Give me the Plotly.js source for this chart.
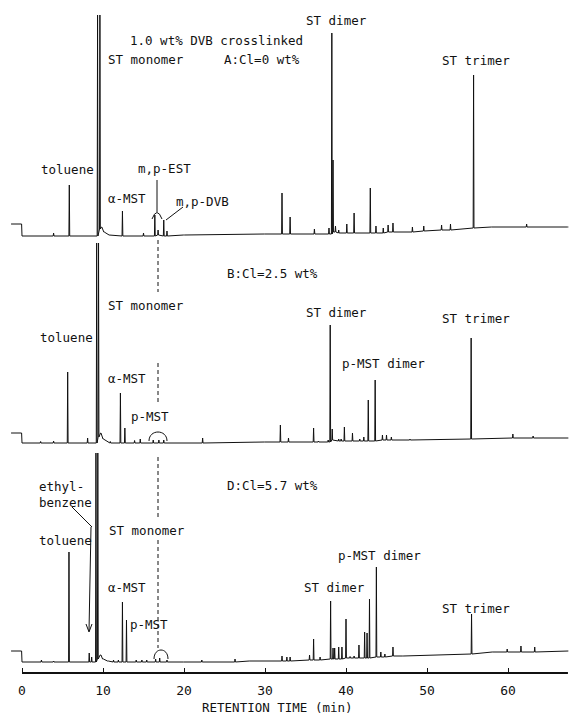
<!DOCTYPE html>
<html><head><meta charset="utf-8">
<script src="https://cdn.plot.ly/plotly-3.0.1.min.js"></script>
<style>html,body{margin:0;padding:0;background:#fff}</style>
</head><body><div id="chart" style="width:576px;height:714px"></div>
<script>
// ---------------- DATA (retention time in min; signal in chart units, stacked offsets) ----------------
// Chromatogram A : Cl = 0 wt%
const A_time = [-1.3, -0.1, 0.05, 3.9, 5.84, 9.33, 9.62, 9.8, 10.1, 10.7, 12.4, 15.0, 16.4, 16.8, 17.5, 17.9, 20, 30, 32.1, 33.1, 36.1, 37.9, 38.25, 38.4, 38.7, 39.1, 40.1, 41.0, 43.0, 43.7, 44.6, 45.2, 45.8, 48.2, 49.6, 51.8, 52.9, 55.75, 58.0, 62.3, 67.4];
const A_apex = [449, 449, 437, 440, 488, 658, 658, 446, 441, 438, 462, 440, 458, 443, 453, 442, 438, 439, 480, 456, 444, 445, 640, 513, 447, 443, 449, 460, 485, 447, 445, 448, 450, 446, 447, 448, 449, 598, 446, 449, 446];
const A_base = [449, 449, 437, 437, 437, 437, 444, 446, 441, 438, 437, 437, 437, 438, 437, 437, 438, 439, 439, 439, 439, 439, 439, 441, 441, 440, 440, 440, 440, 440, 440, 441, 441, 441, 442, 443, 443, 445, 446, 446, 446];

// Chromatogram B : Cl = 2.5 wt%
const B_time = [-1.3, -0.1, 0.05, 2.3, 3.9, 5.64, 8.1, 9.22, 9.45, 9.7, 10.0, 10.6, 10.9, 12.15, 12.7, 13.9, 14.6, 16.2, 16.9, 17.5, 20, 22.3, 30, 31.9, 32.9, 36.0, 36.6, 37.8, 38.05, 38.3, 39.1, 39.4, 39.8, 40.8, 41.7, 42.2, 42.75, 43.6, 44.5, 45.0, 45.6, 47.9, 55.45, 60.6, 63.1, 67.4];
const B_apex = [240, 240, 230, 231.5, 232, 301, 235, 430, 430, 240, 234, 231, 231.5, 280, 245, 232.5, 234, 233, 233, 233, 230, 235, 231, 248, 235, 245, 232, 233, 348, 244, 234, 234, 246, 240, 234, 236, 273, 293, 238, 238, 236, 234, 335, 239, 237, 235];
const B_base = [240, 240, 230, 230, 230, 230, 230, 230, 236, 240, 234, 231, 230, 230, 230, 230, 230, 230, 230, 230, 230, 230, 231, 231, 231, 231, 231, 231, 231, 233, 232, 232, 232, 232, 232, 232, 232, 232, 233, 233, 233, 233, 234, 235, 235, 235];

// Chromatogram D : Cl = 5.7 wt%
const D_time = [-1.3, -0.1, 0.05, 2.4, 3.9, 5.8, 8.3, 8.6, 9.13, 9.36, 9.7, 10.0, 10.6, 11.3, 11.9, 12.4, 12.9, 14.1, 14.8, 15.4, 16.5, 17.0, 17.9, 20, 22.2, 26.3, 28, 32.1, 32.7, 33.1, 35.5, 36.0, 36.8, 38.1, 38.4, 38.6, 39.1, 39.5, 40.0, 40.5, 41.0, 41.6, 42.3, 42.6, 42.9, 43.75, 44.3, 44.8, 45.8, 47, 55.5, 58, 59.9, 61.6, 63.3, 67.4];
const D_apex = [22, 22, 11, 13, 12, 121, 20, 16, 220, 220, 18, 14, 12, 13, 13, 71, 53, 13, 13, 13, 14, 15, 13, 11, 13, 14, 12, 17, 16, 16, 18, 34, 16, 72, 25, 25, 26, 26, 54, 16.5, 17, 28, 41, 40, 74, 106, 21, 19, 26, 17, 59, 21, 24, 27, 26, 22];
const D_base = [22, 22, 11, 11, 11, 11, 11, 11, 11, 14, 18, 14, 12, 11, 11, 11, 11, 11, 11, 11, 11, 11, 11, 11, 11, 11, 12, 12, 12, 12, 13, 13, 13, 14, 14, 14, 14, 14, 15, 15, 15, 15, 15, 15, 15, 16, 16, 16, 17, 17, 19, 21, 21, 21, 21, 22];

const tickValues = [0, 10, 20, 30, 40, 50, 60];
const tickLabels = ["0", "10", "20", "30", "40", "50", "60"];
const xTitle = "RETENTION TIME (min)";

// ---------------- LAYOUT HELPERS ----------------
const PX0 = 22, PXPERMIN = 8.1, AXISPX = 673;
function dx(px){ return (px - PX0) / PXPERMIN; }
function dy(py){ return AXISPX - py; }
const HALFW = 0.05; // half width of a spike (min)
const MONO = "DejaVu Sans Mono, Liberation Mono, monospace";

function build(t, apex, base){
  const x = [], y = [];
  for (let i = 0; i < t.length; i++){
    x.push(t[i] - HALFW, t[i], t[i] + HALFW);
    y.push(base[i], apex[i], base[i]);
  }
  return {x, y};
}
function trace(t, apex, base, name){
  const d = build(t, apex, base);
  return {x: d.x, y: d.y, name, type: "scatter", mode: "lines",
          line: {color: "#111", width: 1}, hoverinfo: "skip", showlegend: false, cliponaxis: false};
}

const traces = [
  trace(A_time, A_apex, A_base, "A"),
  trace(B_time, B_apex, B_base, "B"),
  trace(D_time, D_apex, D_base, "D")
];

const labels = [
  ["1.0 wt% DVB crosslinked", 128, 40],
  ["ST monomer", 106, 59], ["A:Cl=0 wt%", 222, 59],
  ["ST dimer", 304, 20], ["ST trimer", 440, 60],
  ["toluene", 39, 169], ["m,p-EST", 136, 168], ["α-MST", 106, 198], ["m,p-DVB", 174, 201],
  ["B:Cl=2.5 wt%", 225, 273], ["ST monomer", 106, 305], ["toluene", 38, 337],
  ["ST dimer", 304, 312], ["ST trimer", 440, 318], ["p-MST dimer", 340, 363],
  ["α-MST", 106, 378], ["p-MST", 129, 416],
  ["D:Cl=5.7 wt%", 225, 485], ["ethyl-<br>benzene", 37, 494],
  ["toluene", 37, 540], ["ST monomer", 107, 530], ["p-MST dimer", 336, 555],
  ["α-MST", 106, 587], ["ST dimer", 302, 587], ["ST trimer", 440, 608], ["p-MST", 128, 624]
];
const annotations = labels.map(l => ({
  text: l[0], x: dx(l[1]), y: dy(l[2]), xref: "x", yref: "y",
  xanchor: "left", yanchor: "middle", align: "left", showarrow: false,
  font: {family: MONO, size: 12.5, color: "#111"}
}));
annotations.push({text: xTitle, x: dx(277), y: -(707 - AXISPX) / AXISPX, xref: "x", yref: "paper",
  xanchor: "center", yanchor: "middle", showarrow: false,
  font: {family: MONO, size: 12.5, color: "#111"}});

function seg(x0, y0, x1, y1, dash){
  return {type: "line", xref: "x", yref: "y", x0: dx(x0), y0: dy(y0), x1: dx(x1), y1: dy(y1),
          line: {color: "#111", width: 1, dash: dash || "solid"}};
}
function pth(pts){ // pts: [cmd, [px, py], ...]
  let s = "";
  for (const p of pts){
    if (typeof p === "string") s += p + " ";
    else s += dx(p[0]).toFixed(3) + "," + dy(p[1]).toFixed(2) + " ";
  }
  return {type: "path", xref: "x", yref: "y", path: s.trim(), line: {color: "#111", width: 1}};
}

const shapes = [
  // axis line
  {type: "line", xref: "x", yref: "paper", x0: 0, x1: 67.4, y0: 0, y1: 0, line: {color: "#111", width: 2}},
  // dashed guide line at m,p-EST / p-MST
  seg(158, 240, 158, 292, "4px,3px"),
  seg(158, 363, 158, 405, "4px,3px"),
  seg(158, 457, 158, 520, "4px,3px"),
  seg(158, 540, 158, 648, "4px,3px"),
  // A : m,p-EST leader and hat
  seg(157, 180, 157, 212),
  pth(["M", [152, 219], "Q", [157, 206], [162, 219]]),
  // A : m,p-DVB leader
  seg(183, 207, 166, 220),
  // B : p-MST arc
  pth(["M", [149, 441], "C", [149, 429], [167, 429], [167, 441]]),
  // D : p-MST arc
  pth(["M", [154, 659], "C", [154, 647], [168, 647], [168, 659]]),
  // D : ethylbenzene leader with arrow
  seg(72, 507, 92, 527),
  seg(91, 527, 89, 631),
  pth(["M", [86, 624], "L", [89, 632], "L", [92, 624]])
];

const layout = {
  width: 576, height: 714,
  margin: {l: 10, r: 4, t: 0, b: 41, pad: 0},
  paper_bgcolor: "#fff", plot_bgcolor: "#fff",
  showlegend: false,
  xaxis: {range: [dx(10), dx(572)], tickvals: tickValues, ticktext: tickLabels,
          ticks: "inside", ticklen: 5, tickwidth: 1, tickcolor: "#111",
          tickfont: {family: MONO, size: 13, color: "#111"}, ticklabelstandoff: 8,
          showline: false, zeroline: false, showgrid: false, fixedrange: true},
  yaxis: {range: [0, AXISPX], visible: false, fixedrange: true},
  annotations, shapes
};
Plotly.newPlot("chart", traces, layout, {staticPlot: true, displayModeBar: false});
</script></body></html>
